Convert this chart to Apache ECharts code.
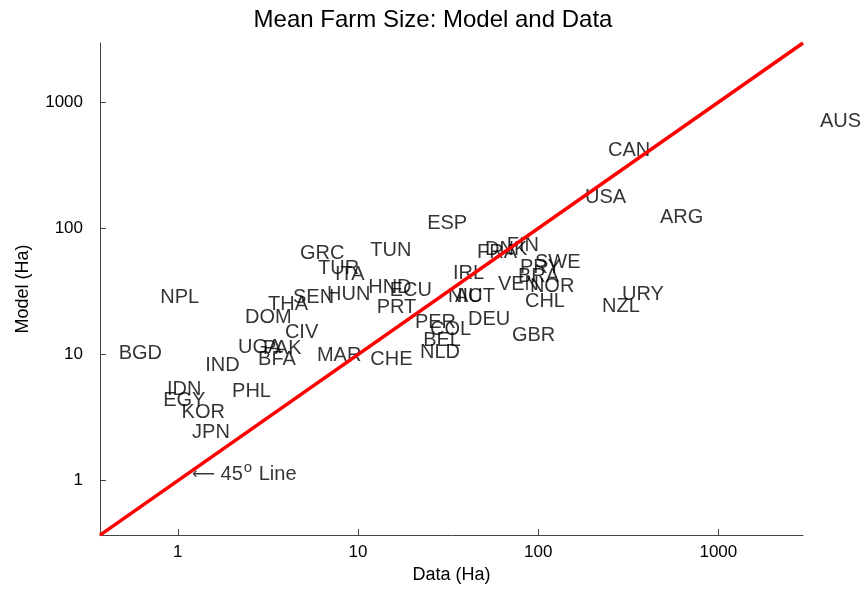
<!DOCTYPE html>
<html>
<head>
<meta charset="utf-8">
<script src="https://cdn.jsdelivr.net/npm/echarts@6/dist/echarts.min.js"></script>
<style>
  html, body { margin: 0; padding: 0; background: #ffffff; }
  #chart { width: 866px; height: 589px; }
</style>
</head>
<body>
<div id="chart"></div>
<script>
// Country codes, observed mean farm size (Data) and model prediction (Model), hectares
var countries = ['BGD','NPL','IDN','EGY','KOR','JPN','PHL','IND','UGA','PAK','BFA','DOM','CIV','THA','SEN','HUN',
  'GRC','TUR','ITA','MAR','TUN','HND','ECU','PRT','CHE','PER','COL','BEL','NLD','ESP','IRL','NIC','AUT','DEU',
  'GBR','CHL','VEN','NOR','BRA','PRY','SWE','FIN','DNK','FRA','USA','CAN','ARG','AUS','URY','NZL'];
var dataHa = [0.47, 0.80, 0.87, 0.83, 1.05, 1.2, 2.0, 1.42, 2.16, 2.97, 2.79, 2.36, 3.93, 3.17, 4.36, 6.73,
  4.77, 6.0, 7.46, 5.92, 11.7, 11.4, 15.0, 12.7, 11.7, 20.7, 25.1, 23.0, 22.1, 24.2, 33.7, 31.6, 34.5, 40.8,
  71.5, 84.5, 59.8, 90.0, 77.3, 79.3, 96.0, 67.0, 50.7, 45.8, 182, 244, 474, 3660, 292, 226];
var modelHa = [10.2, 28.2, 5.3, 4.3, 3.5, 2.4, 5.1, 8.2, 11.4, 11.2, 9.1, 19.8, 14.9, 24.9, 28.2, 29.8,
  63, 48.5, 43, 9.8, 67, 33.7, 32, 23.8, 9.1, 17.9, 15.8, 12.9, 10.4, 109, 44, 28.8, 28.8, 18.9,
  14.1, 26.3, 35.8, 34.5, 41.4, 48.8, 54, 73, 68, 64, 176, 411, 121, 710, 29.8, 24];

// Axis range (same on both axes) and labelled decades
var axisMin = 0.37, axisMax = 2950;
var tickValues = [1, 10, 100, 1000];

// 45-degree reference line and its annotation anchor
var diagonal = [[axisMin, axisMin], [axisMax, axisMax]];
var noteAt = [1.2, 1.14];

var FONT = '"Liberation Sans", Arial, Helvetica, sans-serif';

var points = countries.map(function (c, i) {
  return { name: c, value: [dataHa[i], modelHa[i]] };
});

function logAxis(name, nameGap, labelMargin) {
  return {
    type: 'log',
    logBase: 10,
    min: axisMin,
    max: axisMax,
    name: name,
    nameLocation: 'middle',
    nameGap: nameGap,
    nameTextStyle: { fontFamily: FONT, fontSize: 18, color: '#000' },
    axisLine: { show: true, lineStyle: { color: '#444', width: 1 } },
    axisTick: { show: true, inside: true, length: 6, customValues: tickValues,
      lineStyle: { color: '#444', width: 1 } },
    minorTick: { show: false },
    splitLine: { show: false },
    axisLabel: { customValues: tickValues, margin: labelMargin, fontFamily: FONT, fontSize: 17, color: '#000',
      formatter: function (v) { return String(Math.round(v)); } }
  };
}

var chart = echarts.init(document.getElementById('chart'), null, { renderer: 'canvas' });
chart.setOption({
  backgroundColor: '#ffffff',
  animation: false,
  title: {
    text: 'Mean Farm Size: Model and Data',
    left: 'center',
    top: 3,
    textStyle: { fontFamily: FONT, fontSize: 24, fontWeight: 'normal', color: '#000' }
  },
  grid: { left: 100, right: 63, top: 43, bottom: 53 },
  xAxis: logAxis('Data (Ha)', 30, 9),
  yAxis: logAxis('Model (Ha)', 68, 17),
  series: [
    {
      type: 'scatter',
      z: 2,
      clip: false,
      silent: true,
      symbolSize: 0,
      data: points,
      label: {
        show: true,
        position: 'right',
        distance: 0,
        offset: [0, 2],
        formatter: '{b}',
        fontFamily: FONT,
        fontSize: 20,
        color: '#000'
      },
      labelLayout: { hideOverlap: false }
    },
    {
      type: 'scatter',
      z: 2,
      clip: false,
      silent: true,
      symbolSize: 0,
      data: [noteAt],
      label: {
        show: true,
        position: 'right',
        distance: 0,
        offset: [0, 1],
        formatter: '{arr|\u27F5}{a| 45}{s|o}{a| Line}',
        rich: {
          arr: { fontFamily: '"DejaVu Sans", sans-serif', fontSize: 16, color: '#000' },
          a: { fontFamily: FONT, fontSize: 20, color: '#000' },
          s: { fontFamily: FONT, fontSize: 15, color: '#000', padding: [0, 1, 14, 1] }
        }
      }
    },
    {
      type: 'line',
      z: 5,
      silent: true,
      symbol: 'none',
      data: diagonal,
      lineStyle: { color: '#ff0000', width: 3.5 }
    }
  ]
});
</script>
</body>
</html>
